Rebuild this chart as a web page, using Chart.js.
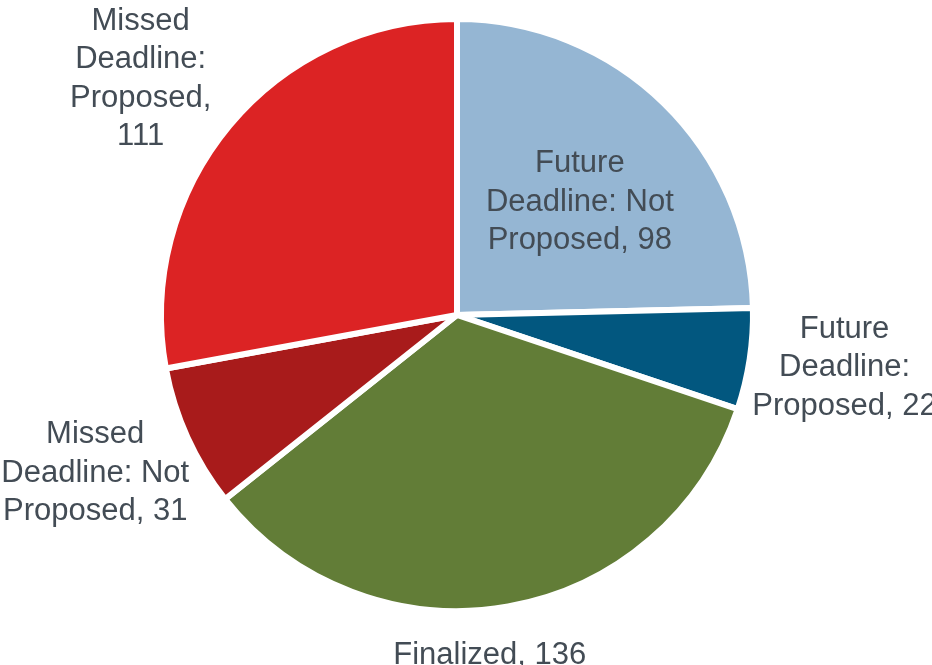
<!DOCTYPE html>
<html>
<head>
<meta charset="utf-8">
<script src="https://cdn.jsdelivr.net/npm/chart.js@4"></script>
<style>
    html, body { margin: 0; padding: 0; background: #ffffff; }
    #wrap { width: 932px; height: 665px; position: relative; }
</style>
</head>
<body>
<div id="wrap"><canvas id="mainChart"></canvas></div>
<script>
// Status categories (clockwise from 12 o'clock)
const categories = [
    'Future Deadline: Not Proposed',
    'Future Deadline: Proposed',
    'Finalized',
    'Missed Deadline: Not Proposed',
    'Missed Deadline: Proposed'
];
const counts = [98, 22, 136, 31, 111];

// Wrapped label text, one entry per slice
const labelLines = [
    ['Future', 'Deadline: Not', 'Proposed, 98'],
    ['Future', 'Deadline:', 'Proposed, 22'],
    ['Finalized, 136'],
    ['Missed', 'Deadline: Not', 'Proposed, 31'],
    ['Missed', 'Deadline:', 'Proposed,', '111']
];

const sliceColors = ['#95b6d3', '#02577f', '#627d37', '#a81b1b', '#dc2324'];

// Label placement: distance from centre (x radius) and angle nudge in degrees
const labelRadius = [0.57, 1.31, 1.145, 1.33, 1.34];
const labelNudge = [2.4, -1.2, 4.4, 1.2, -2.7];

const sliceLabels = {
    id: 'sliceLabels',
    afterDatasetsDraw(chart) {
        const { ctx } = chart;
        const arcs = chart.getDatasetMeta(0).data;
        ctx.save();
        ctx.font = '31px "Liberation Sans", Arial, sans-serif';
        ctx.fillStyle = '#434c55';
        ctx.textAlign = 'center';
        ctx.textBaseline = 'middle';
        const lineH = 38.5;
        arcs.forEach((arc, i) => {
            const p = arc.getProps(['x', 'y', 'startAngle', 'endAngle', 'outerRadius'], true);
            const mid = (p.startAngle + p.endAngle) / 2 + labelNudge[i] * Math.PI / 180;
            const r = p.outerRadius * labelRadius[i];
            const cx = p.x + Math.cos(mid) * r + (i === 1 ? 3 : 0);
            const cy = p.y + Math.sin(mid) * r + 3;
            const lines = labelLines[i];
            const top = cy - (lines.length - 1) * lineH / 2;
            lines.forEach((t, k) => ctx.fillText(t, cx, top + k * lineH));
        });
        ctx.restore();
    }
};

new Chart(document.getElementById('mainChart').getContext('2d'), {
    type: 'pie',
    data: {
        labels: categories,
        datasets: [{
            data: counts,
            backgroundColor: sliceColors,
            borderColor: '#ffffff',
            borderWidth: 6
        }]
    },
    options: {
        responsive: true,
        maintainAspectRatio: false,
        animation: false,
        layout: { padding: { top: 16, bottom: 51, left: 0, right: 18 } },
        plugins: {
            legend: { display: false },
            tooltip: { enabled: false }
        }
    },
    plugins: [sliceLabels]
});
</script>
</body>
</html>
